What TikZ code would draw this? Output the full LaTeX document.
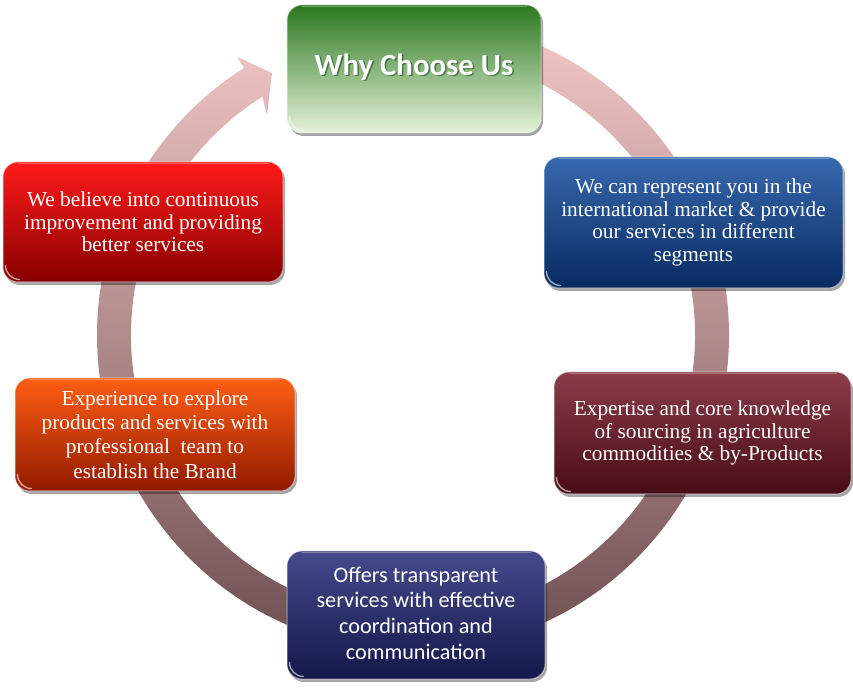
\documentclass[tikz,border=0pt]{standalone}
\usepackage{fontspec}
\setmainfont{Liberation Serif}
\newfontfamily\calibri{Carlito}
\usetikzlibrary{calc,shadows}
\definecolor{ringtop}{HTML}{F4C8C8}
\definecolor{ringmid}{HTML}{B98B8F}
\definecolor{ringbot}{HTML}{6C4D50}
\definecolor{gtop}{HTML}{2C7820}
\definecolor{gmid}{HTML}{93B470}
\definecolor{gbot}{HTML}{E6F2DA}
\definecolor{btop}{HTML}{3868AE}
\definecolor{bmid}{HTML}{1A4486}
\definecolor{bbot}{HTML}{072A60}
\definecolor{mtop}{HTML}{8B3C49}
\definecolor{mmid}{HTML}{681E2B}
\definecolor{mbot}{HTML}{470C17}
\definecolor{ntop}{HTML}{454A8C}
\definecolor{nmid}{HTML}{262A66}
\definecolor{nbot}{HTML}{14174A}
\definecolor{otop}{HTML}{FF5E14}
\definecolor{omid}{HTML}{E03C05}
\definecolor{obot}{HTML}{921A00}
\definecolor{rtop}{HTML}{FF1A1A}
\definecolor{rmid}{HTML}{D00A0A}
\definecolor{rbot}{HTML}{870000}
\tikzset{
  glossbox/.style={rectangle, rounded corners=15pt, draw=white, draw opacity=0.45,
    line width=1pt, text=white, align=center, inner sep=0pt,
    drop shadow={shadow xshift=2pt, shadow yshift=-3pt, opacity=0.35, fill=black}},
  serifbox/.style={glossbox, font=\fontsize{21.3}{22.5}\selectfont},
  gloss/.style={white, opacity=0.6, line width=1.4pt, line cap=round},
  toplight/.style={white, opacity=0.3, line width=1pt}
}
\newcommand{\boxgloss}[1]{%
  \draw[gloss] ($(#1.south west)+(3,17)$) arc[start angle=180, end angle=270, radius=14];
  \draw[toplight] ($(#1.north west)+(15,-2.5)$) -- ($(#1.north east)+(-15,-2.5)$);
}
\begin{document}
\begin{tikzpicture}[x=1pt,y=1pt]
\useasboundingbox (0,0) rectangle (853,690);
% ring with arrowhead
\begin{scope}[shift={(413,355)}]
\shade[top color=ringtop, middle color=ringmid, bottom color=ringbot]
  (90:316) arc[start angle=90, end angle=-237.7, radius=316]
  -- (-176,278) coordinate (wingout) -- (-141,262) coordinate (tip)
  -- (-146,220) coordinate (wingin)
  -- (-237.7:282) arc[start angle=-237.7, end angle=90, radius=282] -- cycle;
\end{scope}
% boxes
\node[glossbox, minimum width=254pt, minimum height=128pt,
  top color=gtop, middle color=gmid, bottom color=gbot] (green) at (414,621) {};
\node[text=black!60!green!40!black, opacity=0.45, font=\calibri\bfseries\fontsize{30.8}{34}\selectfont]
  (titleshadow) at (415.5,621.5) {Why Choose Us};
\node[text=white, font=\calibri\bfseries\fontsize{30.8}{34}\selectfont]
  (title) at (414,623) {Why Choose Us};
\node[serifbox, minimum width=299pt, minimum height=131pt,
  top color=btop, middle color=bmid, bottom color=bbot] (blue) at (693.5,467.5)
  {We can represent you in the\\international market \& provide\\our services in different\\segments};
\node[serifbox, minimum width=297pt, minimum height=122pt,
  top color=mtop, middle color=mmid, bottom color=mbot] (maroon) at (702.5,257)
  {Expertise and core knowledge\\of sourcing in agriculture\\commodities \& by-Products};
\node[glossbox, font=\calibri\fontsize{22.2}{25.7}\selectfont, minimum width=258pt, minimum height=128pt,
  top color=ntop, middle color=nmid, bottom color=nbot] (navy) at (416,75)
  {};
\node[text=white, align=center, font=\calibri\fontsize{22.2}{25.7}\selectfont] (navytext) at (416,77)
  {Offers transparent\\services with effective\\coordination and\\communication};
\node[glossbox, font=\fontsize{21.3}{24.3}\selectfont, minimum width=280pt, minimum height=113pt,
  top color=otop, middle color=omid, bottom color=obot] (orange) at (155,255.5)
  {Experience to explore\\products and services with\\professional~ team to\\establish the Brand};
\node[serifbox, minimum width=280pt, minimum height=120pt,
  top color=rtop, middle color=rmid, bottom color=rbot] (red) at (143,468)
  {We believe into continuous\\improvement and providing\\better services};
\boxgloss{green}
\boxgloss{blue}
\boxgloss{maroon}
\boxgloss{navy}
\boxgloss{orange}
\boxgloss{red}
\end{tikzpicture}
\end{document}
